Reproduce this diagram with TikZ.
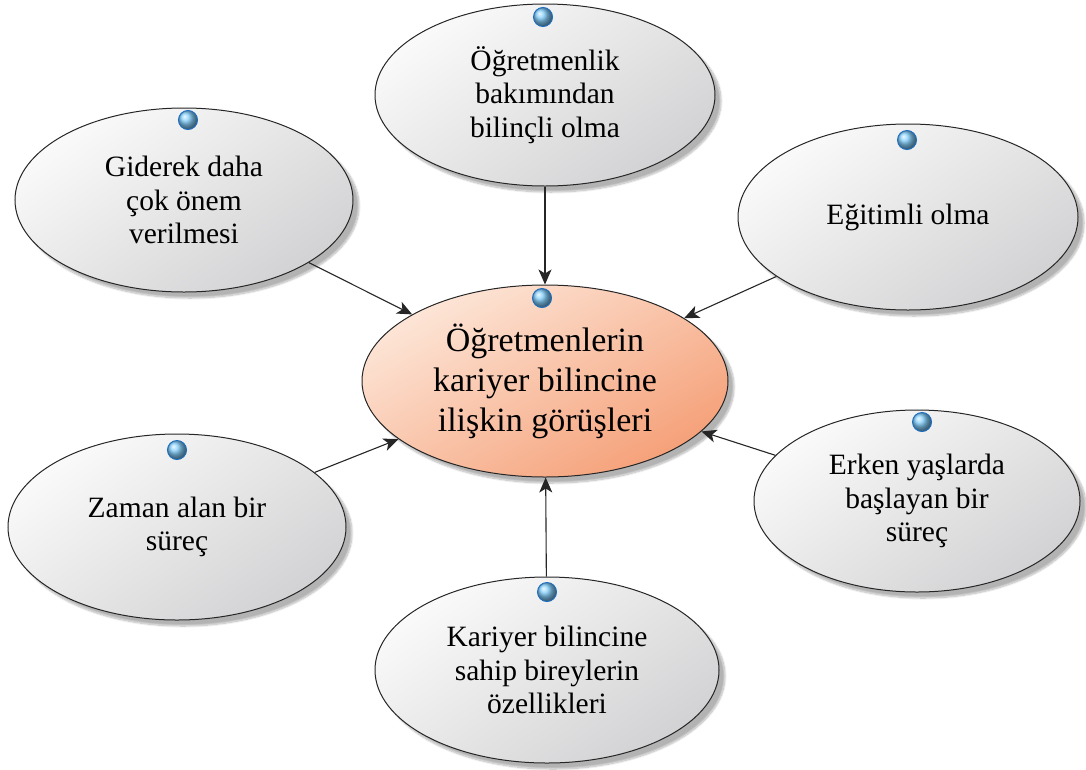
\documentclass[tikz,border=0pt]{standalone}
\usepackage{fontspec}
\setmainfont{Liberation Serif}
\usetikzlibrary{shapes.geometric,arrows.meta,shadows.blur}

\definecolor{peachlight}{RGB}{253,230,216}
\definecolor{peachdark}{RGB}{245,160,120}
\definecolor{greylight}{RGB}{250,250,250}
\definecolor{greydark}{RGB}{210,210,212}
\definecolor{ballblue}{RGB}{130,205,250}

\tikzset{
  bubble/.style={ellipse, draw=black!85, line width=1pt, inner sep=0pt,
    align=center, text=black,
    font=\fontsize{29.5}{33.5}\selectfont,
    top color=greylight, bottom color=greydark, shading angle=35,
    blur shadow={shadow xshift=6pt, shadow yshift=-6pt, shadow opacity=30, shadow blur steps=12}},
  hub/.style={bubble, font=\fontsize{34}{40}\selectfont,
    top color=peachlight, bottom color=peachdark, shading angle=30},
  knob/.style={circle, draw={rgb,255:red,30;green,110;blue,190}, line width=1pt,
    minimum size=19pt, inner sep=0pt, shading=ball, ball color=ballblue},
  link/.style={draw=black!85, line width=1.1pt,
    -{Stealth[length=15pt,width=13pt,inset=4pt]}}
}

\begin{document}
\begin{tikzpicture}[x=1pt,y=-1pt]
  \useasboundingbox (0,0) rectangle (1086,769);

  % central topic
  \node[hub, minimum width=366pt, minimum height=192pt] (c) at (545,381)
    {Öğretmenlerin\\kariyer bilincine\\ilişkin görüşleri};

  % surrounding themes
  \node[bubble, minimum width=340pt, minimum height=182pt] (tp) at (545,95)
    {Öğretmenlik\\bakımından\\bilinçli olma};
  \node[bubble, minimum width=338pt, minimum height=184pt] (lt) at (184,200)
    {Giderek daha\\çok önem\\verilmesi};
  \node[bubble, minimum width=340pt, minimum height=186pt] (rt) at (908,217)
    {Eğitimli olma};
  \node[bubble, minimum width=338pt, minimum height=186pt] (lb) at (177,527)
    {Zaman alan bir\\süreç};
  \node[bubble, minimum width=326pt, minimum height=182pt] (rb) at (917,501)
    {Erken yaşlarda\\başlayan bir\\süreç};
  \node[bubble, minimum width=344pt, minimum height=186pt] (bt) at (547,670)
    {Kariyer bilincine\\sahip bireylerin\\özellikleri};

  % glossy markers on top of each bubble
  \node[knob] (k-c)  at (542,298) {};
  \node[knob] (k-tp) at (543,17)  {};
  \node[knob] (k-lt) at (188,120) {};
  \node[knob] (k-rt) at (907,140) {};
  \node[knob] (k-lb) at (177,450) {};
  \node[knob] (k-rb) at (922,422) {};
  \node[knob] (k-bt) at (547,592) {};

  % connectors into the central topic
  \draw[link] (tp) -- (c);
  \draw[link] (lt) -- (c);
  \draw[link] (rt) -- (c);
  \draw[link] (lb) -- (c);
  \draw[link] (rb) -- (c);
  \draw[link] (bt) -- (c);
\end{tikzpicture}
\end{document}
